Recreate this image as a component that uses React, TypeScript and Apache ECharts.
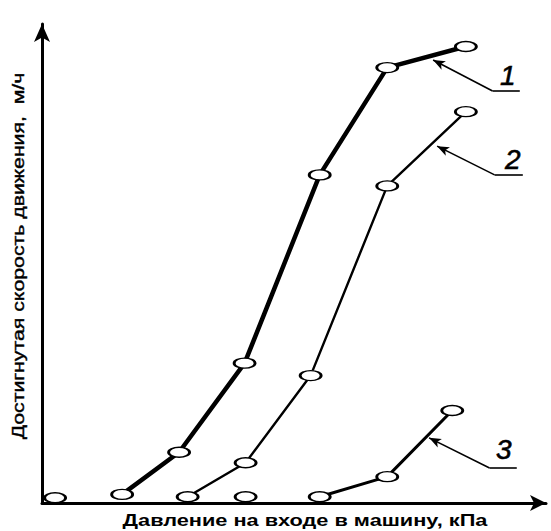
import React, { useEffect, useRef } from "react";
import * as echarts from "echarts";

// Data (unitless: pressure 0..100, speed 0..100)
const series1: [number, number][] = [
  [15.9, 1.8], [27.2, 10.6], [40.2, 29.2], [55.1, 68.5], [68.5, 90.9], [84.1, 95.3],
];
const series2: [number, number][] = [
  [28.9, 1.3], [40.4, 8.4], [53.3, 26.6], [68.5, 66.2], [84.1, 81.7],
];
const series3: [number, number][] = [
  [55.1, 1.3], [68.5, 5.5], [81.4, 19.3],
];
const zeroPoints: [number, number][] = [
  [2.6, 1.1], [40.4, 1.3],
];
const seriesNames = ["1", "2", "3"];
// annotation leaders: tip (on curve), bend, underline end, label centre
const leaders1 = { tip: [77.6, 92.5], bend: [89.4, 86.0], end: [94.8, 86.0], label: [92.4, 89.3] };
const leaders2 = { tip: [78.4, 74.5], bend: [89.8, 68.5], end: [95.4, 68.5], label: [93.4, 71.8] };
const leaders3 = { tip: [76.8, 13.6], bend: [88.8, 7.3], end: [94.2, 7.3], label: [91.6, 11.1] };
const xTitle = "Давление на входе в машину, кПа";
const yTitle = "Достигнутая скорость движения,  м/ч";

const ELLIPSE = "path://M0,5A11,5,0,1,1,22,5A11,5,0,1,1,0,5Z";
const X_FONT = 'bold 17px "Liberation Sans"';
const Y_FONT = '16px "Liberation Sans"';

function measure(text: string, font: string): number {
  const c = document.createElement("canvas");
  const ctx = c.getContext("2d");
  if (!ctx) return 1;
  ctx.font = font;
  return ctx.measureText(text).width || 1;
}

function annotation(name: string, l: any) {
  return {
    markLine: {
      silent: true,
      animation: false,
      label: { show: false },
      lineStyle: { type: "solid", color: "#000", width: 1.6 },
      data: [
        [
          { coord: l.tip, symbol: "arrow", symbolSize: [7, 12] },
          { coord: l.bend, symbol: "none" },
        ],
        [
          { coord: l.bend, symbol: "none" },
          { coord: l.end, symbol: "none" },
        ],
      ],
    },
    markPoint: {
      silent: true,
      animation: false,
      symbol: "circle",
      symbolSize: 1,
      itemStyle: { color: "transparent" },
      label: {
        show: true,
        position: "inside",
        formatter: name,
        color: "#000",
        fontSize: 28,
        fontStyle: "italic",
        fontFamily: "Liberation Sans",
        textBorderColor: "#000",
        textBorderWidth: 0.6,
      },
      data: [{ coord: l.label }],
    },
  };
}

export default function App() {
  const ref = useRef<HTMLDivElement>(null);
  useEffect(() => {
    if (!ref.current) return;
    const chart = echarts.init(ref.current, undefined, { renderer: "svg" });
    const markerStyle = { color: "#fff", borderColor: "#000", borderWidth: 2, opacity: 1 };
    const lineBase = (name: string, data: [number, number][], width: number, l: any) => ({
      name,
      type: "line",
      data,
      symbol: ELLIPSE,
      symbolSize: [21, 10],
      showSymbol: true,
      itemStyle: markerStyle,
      lineStyle: { color: "#000", width },
      z: 3,
      ...annotation(name, l),
    });
    const xScale = 365 / measure(xTitle, X_FONT);
    const yScale = 367 / measure(yTitle, Y_FONT);
    chart.setOption({
      animation: false,
      backgroundColor: "#fff",
      grid: { left: 42, right: 5, top: 24, bottom: 28, containLabel: false },
      xAxis: {
        type: "value",
        min: 0,
        max: 100,
        axisLine: {
          show: true,
          symbol: ["none", "arrow"],
          symbolSize: [12, 16],
          lineStyle: { color: "#000", width: 3 },
        },
        axisTick: { show: false },
        axisLabel: { show: false },
        splitLine: { show: false },
      },
      yAxis: {
        type: "value",
        min: 0,
        max: 100,
        axisLine: {
          show: true,
          symbol: ["none", "arrow"],
          symbolSize: [12, 18],
          lineStyle: { color: "#000", width: 3 },
        },
        axisTick: { show: false },
        axisLabel: { show: false },
        splitLine: { show: false },
      },
      series: [
        lineBase(seriesNames[0], series1, 4.5, leaders1),
        lineBase(seriesNames[1], series2, 2.4, leaders2),
        lineBase(seriesNames[2], series3, 3, leaders3),
        {
          type: "scatter",
          data: zeroPoints,
          symbol: ELLIPSE,
          symbolSize: [21, 10],
          itemStyle: markerStyle,
          z: 4,
        },
      ],
      graphic: [
        {
          type: "text",
          x: 305,
          y: 520,
          scaleX: xScale,
          style: {
            text: xTitle,
            fill: "#000",
            font: X_FONT,
            align: "center",
            verticalAlign: "middle",
          },
        },
        {
          type: "text",
          x: 18,
          y: 256,
          rotation: Math.PI / 2,
          scaleX: yScale,
          style: {
            text: yTitle,
            fill: "#000",
            font: Y_FONT,
            align: "center",
            verticalAlign: "middle",
            stroke: "#000",
            lineWidth: 0.4,
          },
        },
      ],
    });
    return () => chart.dispose();
  }, []);
  return <div ref={ref} style={{ width: 551, height: 531, position: "absolute", left: 0, top: 0 }} />;
}
